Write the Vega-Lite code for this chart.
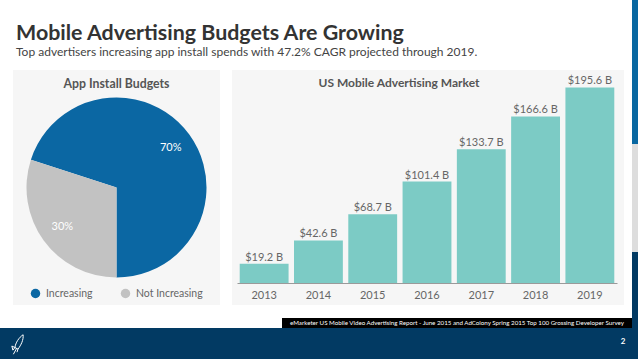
{
  "$schema": "https://vega.github.io/schema/vega-lite/v6.json",
  "background": "white",
  "padding": 0,
  "spacing": 0,
  "config": {
    "view": {"stroke": null},
    "concat": {"spacing": 0},
    "font": "Lato",
    "title": {"font": "Lato", "subtitleFont": "Lato"}
  },
  "hconcat": [
    {
      "spacing": 0,
      "vconcat": [
        {
          "width": 632,
          "height": 70,
          "data": {"values": [{}]},
          "mark": {"type": "text"},
          "encoding": {"text": {"value": ""}},
          "title": {
            "text": "Mobile Advertising Budgets Are Growing",
            "subtitle": "Top advertisers increasing app install spends with 47.2% CAGR projected through 2019.",
            "anchor": "start",
            "frame": "group",
            "dx": 16,
            "offset": -58,
            "fontSize": 21.4,
            "fontWeight": "bold",
            "color": "#333333",
            "subtitleFontSize": 12,
            "subtitleColor": "#444444",
            "subtitlePadding": 3
          }
        },
        {
          "spacing": 0,
          "hconcat": [
            {
              "width": 13, "height": 235,
              "data": {"values": [{}]},
              "mark": {"type": "text"},
              "encoding": {"text": {"value": ""}}
            },
            {
              "width": 207,
              "height": 235,
              "view": {"fill": "#f6f6f6"},
              "data": {"values": [
                {"category": "Increasing", "share": 0.7},
                {"category": "Not Increasing", "share": 0.3}
              ]},
              "title": {
                "text": "App Install Budgets",
                "anchor": "middle",
                "frame": "group",
                "offset": -20,
                "fontSize": 12.3,
                "fontWeight": "bold",
                "color": "#555555"
              },
              "encoding": {
                "theta": {"field": "share", "type": "quantitative", "stack": true, "scale": {"range": [3.14159265, 9.42477796]}},
                "order": {"field": "category", "sort": "descending"}
              },
              "layer": [
                {
                  "mark": {"type": "arc", "outerRadius": 90},
                  "encoding": {
                    "color": {
                      "field": "category",
                      "type": "nominal",
                      "scale": {"domain": ["Increasing", "Not Increasing"], "range": ["#0b67a3", "#c2c2c2"]},
                      "legend": {
                        "orient": "none",
                        "legendX": 30,
                        "legendY": 288,
                        "direction": "horizontal",
                        "title": null,
                        "symbolType": "circle",
                        "symbolSize": 90,
                        "labelFontSize": 10.5,
                        "labelColor": "#666666",
                        "labelOffset": 5,
                        "columnPadding": 27
                      }
                    }
                  }
                },
                {
                  "mark": {"type": "text", "radius": 67, "fontSize": 11, "color": "#ffffff"},
                  "encoding": {
                    "detail": {"field": "category", "type": "nominal"},
                    "text": {"field": "share", "type": "quantitative", "format": ".0%"}
                  }
                }
              ]
            },
            {
              "width": 12, "height": 235,
              "data": {"values": [{}]},
              "mark": {"type": "text"},
              "encoding": {"text": {"value": ""}}
            },
            {
              "width": 392,
              "height": 235,
              "view": {"fill": "#f6f6f6"},
              "data": {"values": [
                {"year": "2013", "value": 19.2, "label": "$19.2 B"},
                {"year": "2014", "value": 42.6, "label": "$42.6 B"},
                {"year": "2015", "value": 68.7, "label": "$68.7 B"},
                {"year": "2016", "value": 101.4, "label": "$101.4 B"},
                {"year": "2017", "value": 133.7, "label": "$133.7 B"},
                {"year": "2018", "value": 166.6, "label": "$166.6 B"},
                {"year": "2019", "value": 195.6, "label": "$195.6 B"}
              ]},
              "title": {
                "text": "US Mobile Advertising Market",
                "anchor": "middle",
                "frame": "group",
                "dx": -29,
                "offset": -20,
                "fontSize": 12,
                "fontWeight": "bold",
                "color": "#555555"
              },
              "encoding": {
                "x": {
                  "field": "year",
                  "type": "ordinal",
                  "scale": {"range": [5, 385], "paddingInner": 0.1, "paddingOuter": 0.05},
                  "axis": {
                    "title": null,
                    "labelAngle": 0,
                    "ticks": false,
                    "domainColor": "#9a9a9a",
                    "offset": -22,
                    "labelPadding": 6,
                    "labelFontSize": 11,
                    "labelColor": "#666666",
                    "labelFont": "Lato"
                  }
                }
              },
              "layer": [
                {
                  "mark": {"type": "bar", "color": "#7ccbc5"},
                  "encoding": {
                    "y": {"field": "value", "type": "quantitative", "scale": {"domain": [-22, 213], "nice": false, "zero": false}, "axis": null},
                    "y2": {"datum": 0}
                  }
                },
                {
                  "mark": {"type": "text", "baseline": "alphabetic", "dy": -3, "fontSize": 11, "color": "#666666"},
                  "encoding": {
                    "y": {"field": "value", "type": "quantitative"},
                    "text": {"field": "label"}
                  }
                }
              ]
            },
            {
              "width": 8, "height": 235,
              "data": {"values": [{}]},
              "mark": {"type": "text"},
              "encoding": {"text": {"value": ""}}
            }
          ]
        },
        {
          "width": 632, "height": 11,
          "data": {"values": [{}]},
          "mark": {"type": "text"},
          "encoding": {"text": {"value": ""}}
        },
        {
          "spacing": 0,
          "hconcat": [
            {
              "width": 282, "height": 10,
              "data": {"values": [{}]},
              "mark": {"type": "text"},
              "encoding": {"text": {"value": ""}}
            },
            {
              "width": 350, "height": 10,
              "view": {"fill": "#000000"},
              "data": {"values": [{"source": "eMarketer  US Mobile Video Advertising Report - June 2015 and AdColony Spring 2015 Top 100 Grossing Developer Survey"}]},
              "mark": {"type": "text", "color": "#ffffff", "fontSize": 6.2, "align": "center", "baseline": "middle"},
              "encoding": {"text": {"field": "source"}}
            }
          ]
        },
        {
          "spacing": 0,
          "hconcat": [
            {
              "width": 36, "height": 33,
              "view": {"fill": "#023a63"},
              "data": {"values": [{}]},
              "mark": {
                "type": "point",
                "shape": "M0.5,-0.95 C0.1,-0.7 -0.25,-0.15 -0.3,0.3 L0.0,0.45 C0.3,0.05 0.55,-0.45 0.5,-0.95 Z M-0.3,0.3 L-0.6,0.15 L-0.5,0.55 Z M0.0,0.45 L-0.1,0.75 M-0.15,0.4 L-0.45,0.95",
                "size": 420,
                "filled": false,
                "stroke": "#ffffff",
                "strokeWidth": 1,
                "opacity": 1
              },
              "encoding": {}
            },
            {
              "width": 578, "height": 33,
              "view": {"fill": "#023a63"},
              "data": {"values": [{}]},
              "mark": {"type": "text"},
              "encoding": {"text": {"value": ""}}
            },
            {
              "width": 18, "height": 33,
              "view": {"fill": "#023a63"},
              "data": {"values": [{"page": "2"}]},
              "mark": {"type": "text", "color": "#ffffff", "fontSize": 8, "fontWeight": "bold", "dy": -3},
              "encoding": {"text": {"field": "page"}}
            }
          ]
        }
      ]
    },
    {
      "spacing": 0,
      "vconcat": [
        {
          "width": 6, "height": 144,
          "view": {"fill": "#0867a1"},
          "data": {"values": [{}]},
          "mark": {"type": "text"},
          "encoding": {"text": {"value": ""}}
        },
        {
          "width": 6, "height": 108,
          "view": {"fill": "#dddddd"},
          "data": {"values": [{}]},
          "mark": {"type": "text"},
          "encoding": {"text": {"value": ""}}
        },
        {
          "width": 6, "height": 107,
          "view": {"fill": "#023a63"},
          "data": {"values": [{}]},
          "mark": {"type": "text"},
          "encoding": {"text": {"value": ""}}
        }
      ]
    }
  ]
}
